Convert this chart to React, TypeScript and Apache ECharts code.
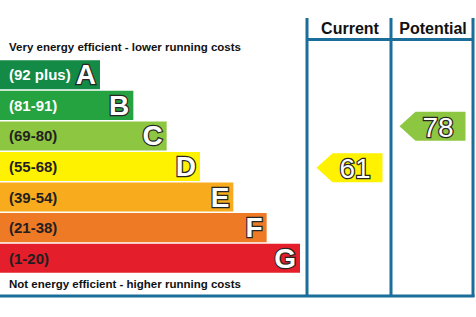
import React, { useEffect, useRef } from "react";
import * as echarts from "echarts";

const bandLetters = ["A", "B", "C", "D", "E", "F", "G"];
const bandRanges = ["(92 plus)", "(81-91)", "(69-80)", "(55-68)", "(39-54)", "(21-38)", "(1-20)"];
const bandLow = [92, 81, 69, 55, 39, 21, 1];
const bandHigh = [100, 91, 80, 68, 54, 38, 20];
const bandLengths = [3, 4, 5, 6, 7, 8, 9];
const bandColors = ["#138a45", "#25a340", "#8dc641", "#fff200", "#f8ab1d", "#ee7a26", "#e41e2a"];
const rangeTextColors = ["#ffffff", "#ffffff", "#231f20", "#231f20", "#231f20", "#231f20", "#231f20"];
const columns = ["Current", "Potential"];
const ratings = [61, 78];
const topCaption = "Very energy efficient - lower running costs";
const bottomCaption = "Not energy efficient - higher running costs";

const FONT = '"Liberation Sans", Arial, Helvetica, sans-serif';
const FRAME = "#1b6e99";

function bandIndexOf(v: number) {
  return bandLow.findIndex((lo, k) => v >= lo && v <= bandHigh[k]);
}
function ratingPos(v: number) {
  const i = bandIndexOf(v);
  const frac = (v - bandLow[i]) / (bandHigh[i] - bandLow[i]);
  return i + (1 - frac);
}

export default function App() {
  const ref = useRef<HTMLDivElement>(null);
  useEffect(() => {
    if (!ref.current) return;
    const chart = echarts.init(ref.current, undefined, { renderer: "svg" });
    const gridTop = 59.5;
    const gridH = 214;
    const option: any = {
      animation: false,
      backgroundColor: "#ffffff",
      grid: [
        { left: 0, top: gridTop, width: 300, height: gridH },
        { left: 307, top: gridTop, width: 166, height: gridH },
      ],
      xAxis: [
        { type: "value", gridIndex: 0, min: 0, max: 9, show: false },
        { type: "category", gridIndex: 1, data: columns, show: false },
      ],
      yAxis: [
        { type: "category", gridIndex: 0, data: bandLetters, inverse: true, show: false },
        { type: "value", gridIndex: 1, min: 0, max: 7, inverse: true, show: false },
      ],
      series: [
        {
          type: "bar",
          xAxisIndex: 0,
          yAxisIndex: 0,
          barCategoryGap: "5%",
          data: bandLengths.map((v, i) => ({ value: v, itemStyle: { color: bandColors[i] } })),
          label: {
            show: true,
            position: "insideRight",
            distance: 4,
            formatter: (p: any) => bandLetters[p.dataIndex],
            fontFamily: FONT,
            fontSize: 28,
            fontWeight: "bold",
            color: "#ffffff",
            textBorderColor: "#262626",
            textBorderWidth: 2.5,
          },
        },
        {
          type: "bar",
          xAxisIndex: 0,
          yAxisIndex: 0,
          barCategoryGap: "5%",
          barGap: "-100%",
          z: 3,
          data: bandLengths.map((v, i) => ({
            value: v,
            itemStyle: { color: "rgba(0,0,0,0)" },
            label: { color: rangeTextColors[i] },
          })),
          label: {
            show: true,
            position: "insideLeft",
            distance: 9,
            formatter: (p: any) => bandRanges[p.dataIndex],
            fontFamily: FONT,
            fontSize: 15,
            fontWeight: "bold",
          },
        },
        {
          type: "custom",
          xAxisIndex: 1,
          yAxisIndex: 1,
          data: ratings.map((r, i) => [i, ratingPos(r), r]),
          encode: { x: 0, y: 1 },
          renderItem: (params: any, api: any) => {
            const c = api.coord([api.value(0), api.value(1)]);
            const unit = api.size([0, 1])[1];
            const h = unit * 0.95;
            const r = api.value(2);
            const color = bandColors[bandIndexOf(r)];
            const left = c[0] - 32;
            const right = c[0] + 34;
            const tip = 16;
            return {
              type: "group",
              children: [
                {
                  type: "polygon",
                  shape: {
                    points: [
                      [left, c[1]],
                      [left + tip, c[1] - h / 2],
                      [right, c[1] - h / 2],
                      [right, c[1] + h / 2],
                      [left + tip, c[1] + h / 2],
                    ],
                  },
                  style: { fill: color },
                },
                {
                  type: "text",
                  x: c[0] + 6.5,
                  y: c[1] + 1,
                  style: {
                    text: String(r),
                    fill: "#ffffff",
                    stroke: "#262626",
                    lineWidth: 2.5,
                    fontSize: 28,
                    fontFamily: FONT,
                    align: "center",
                    verticalAlign: "middle",
                  },
                },
              ],
            };
          },
        },
      ],
      graphic: [
        { type: "line", shape: { x1: 307, y1: 18, x2: 307, y2: 297 }, style: { stroke: FRAME, lineWidth: 3 } },
        { type: "line", shape: { x1: 391, y1: 18, x2: 391, y2: 297 }, style: { stroke: FRAME, lineWidth: 3 } },
        { type: "line", shape: { x1: 473, y1: 18, x2: 473, y2: 297 }, style: { stroke: FRAME, lineWidth: 3 } },
        { type: "line", shape: { x1: 307, y1: 39.5, x2: 473, y2: 39.5 }, style: { stroke: FRAME, lineWidth: 3 } },
        { type: "line", shape: { x1: 0, y1: 296, x2: 474.5, y2: 296 }, style: { stroke: FRAME, lineWidth: 3 } },
        {
          type: "text",
          x: 350,
          y: 28,
          style: { text: columns[0], fill: "#111", font: `bold 16px ${FONT}`, align: "center", verticalAlign: "middle" },
        },
        {
          type: "text",
          x: 433,
          y: 28,
          style: { text: columns[1], fill: "#111", font: `bold 16px ${FONT}`, align: "center", verticalAlign: "middle" },
        },
        {
          type: "text",
          x: 9,
          y: 47,
          style: { text: topCaption, fill: "#111", font: `bold 11.5px ${FONT}`, align: "left", verticalAlign: "middle" },
        },
        {
          type: "text",
          x: 9,
          y: 284,
          style: { text: bottomCaption, fill: "#111", font: `bold 11.5px ${FONT}`, align: "left", verticalAlign: "middle" },
        },
      ],
    };
    chart.setOption(option);
    return () => chart.dispose();
  }, []);
  return (
    <div
      ref={ref}
      style={{ position: "absolute", left: 0, top: 0, width: 476, height: 317, background: "#fff" }}
    />
  );
}
